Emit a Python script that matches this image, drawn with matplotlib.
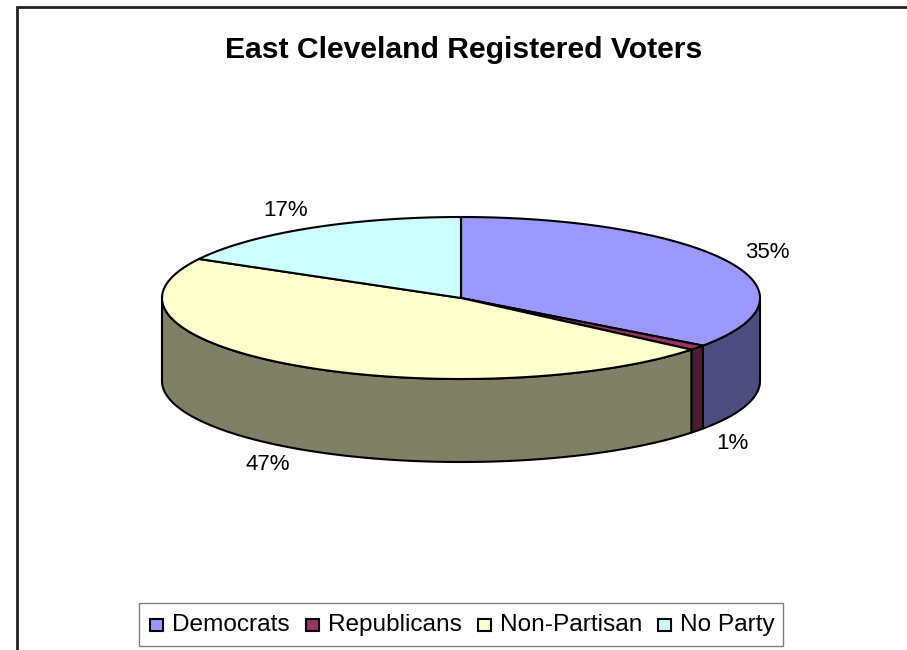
import numpy as np
import matplotlib
matplotlib.use('Agg')
import matplotlib.pyplot as plt
from matplotlib.patches import Polygon, Rectangle
from matplotlib.lines import Line2D

plt.rcParams['font.family'] = ['Liberation Sans', 'DejaVu Sans']

title = 'East Cleveland Registered Voters'
categories = ['Democrats', 'Republicans', 'Non-Partisan', 'No Party']
values = [35, 1, 47, 17]
labels = ['35%', '1%', '47%', '17%']
top_colors = ['#9999FF', '#993366', '#FFFFCC', '#CCFFFF']
side_colors = ['#4D4D80', '#4D1A33', '#808066', '#668080']

W, H = 907, 650
fig = plt.figure(figsize=(W / 100, H / 100), dpi=100)
ax = fig.add_axes([0, 0, 1, 1])
ax.set_xlim(0, W)
ax.set_ylim(H, 0)
ax.axis('off')

cx, cy, rx, ry, depth = 461, 298, 299, 81, 83


def pt(theta, dy=0.0):
    t = np.radians(theta)
    return cx + rx * np.cos(t), cy - ry * np.sin(t) + dy


total = float(sum(values))
start = 90.0
spans = []
for v in values:
    sweep = 360.0 * v / total
    spans.append((start - sweep, start))
    start -= sweep

# side walls (front half only)
for (a0, a1), sc in zip(spans, side_colors):
    lo, hi = max(a0, -180.0), min(a1, 0.0)
    if hi <= lo:
        continue
    th = np.linspace(lo, hi, 120)
    top = [pt(t) for t in th]
    bot = [pt(t, depth) for t in th[::-1]]
    ax.add_patch(Polygon(top + bot, closed=True, facecolor=sc,
                         edgecolor='black', linewidth=1.5, joinstyle='round'))

# top faces
for (a0, a1), tc in zip(spans, top_colors):
    th = np.linspace(a0, a1, 200)
    poly = [(cx, cy)] + [pt(t) for t in th]
    ax.add_patch(Polygon(poly, closed=True, facecolor=tc,
                         edgecolor='black', linewidth=1.5, joinstyle='round'))

# data labels
for (a0, a1), lab in zip(spans, labels):
    m = np.radians((a0 + a1) / 2)
    x = cx + 1.15 * rx * np.cos(m)
    y = cy - 1.25 * ry * np.sin(m) + (depth if np.sin(m) < 0 else 0)
    ax.text(x, y, lab, ha='center', va='center', fontsize=16, color='black')

ax.text(464, 58, title, ha='center', va='baseline', fontsize=21.7,
        fontweight='bold', color='black')

# chart area border (left and top visible)
ax.add_line(Line2D([17, 17, W], [H, 7, 7], color='#222222', linewidth=2,
                   solid_joinstyle='miter'))

# legend (built item by item so the text baselines line up)
renderer = fig.canvas.get_renderer()
lx0, ly0, lx1, ly1 = 139, 603, 783, 646
ax.add_patch(Rectangle((lx0, ly0), lx1 - lx0, ly1 - ly0, facecolor='white',
                       edgecolor='#808080', linewidth=1.0, zorder=3))
x = 150
for name, c in zip(categories, top_colors):
    ax.add_patch(Rectangle((x, 619), 13, 12, facecolor=c, edgecolor='black',
                           linewidth=1.5, zorder=4))
    t = ax.text(x + 22, 631, name, ha='left', va='baseline', fontsize=17.6,
                color='black', zorder=4)
    w = t.get_window_extent(renderer).width
    x = x + 22 + w + 16

fig.savefig('out.png', dpi=100, facecolor='white')
